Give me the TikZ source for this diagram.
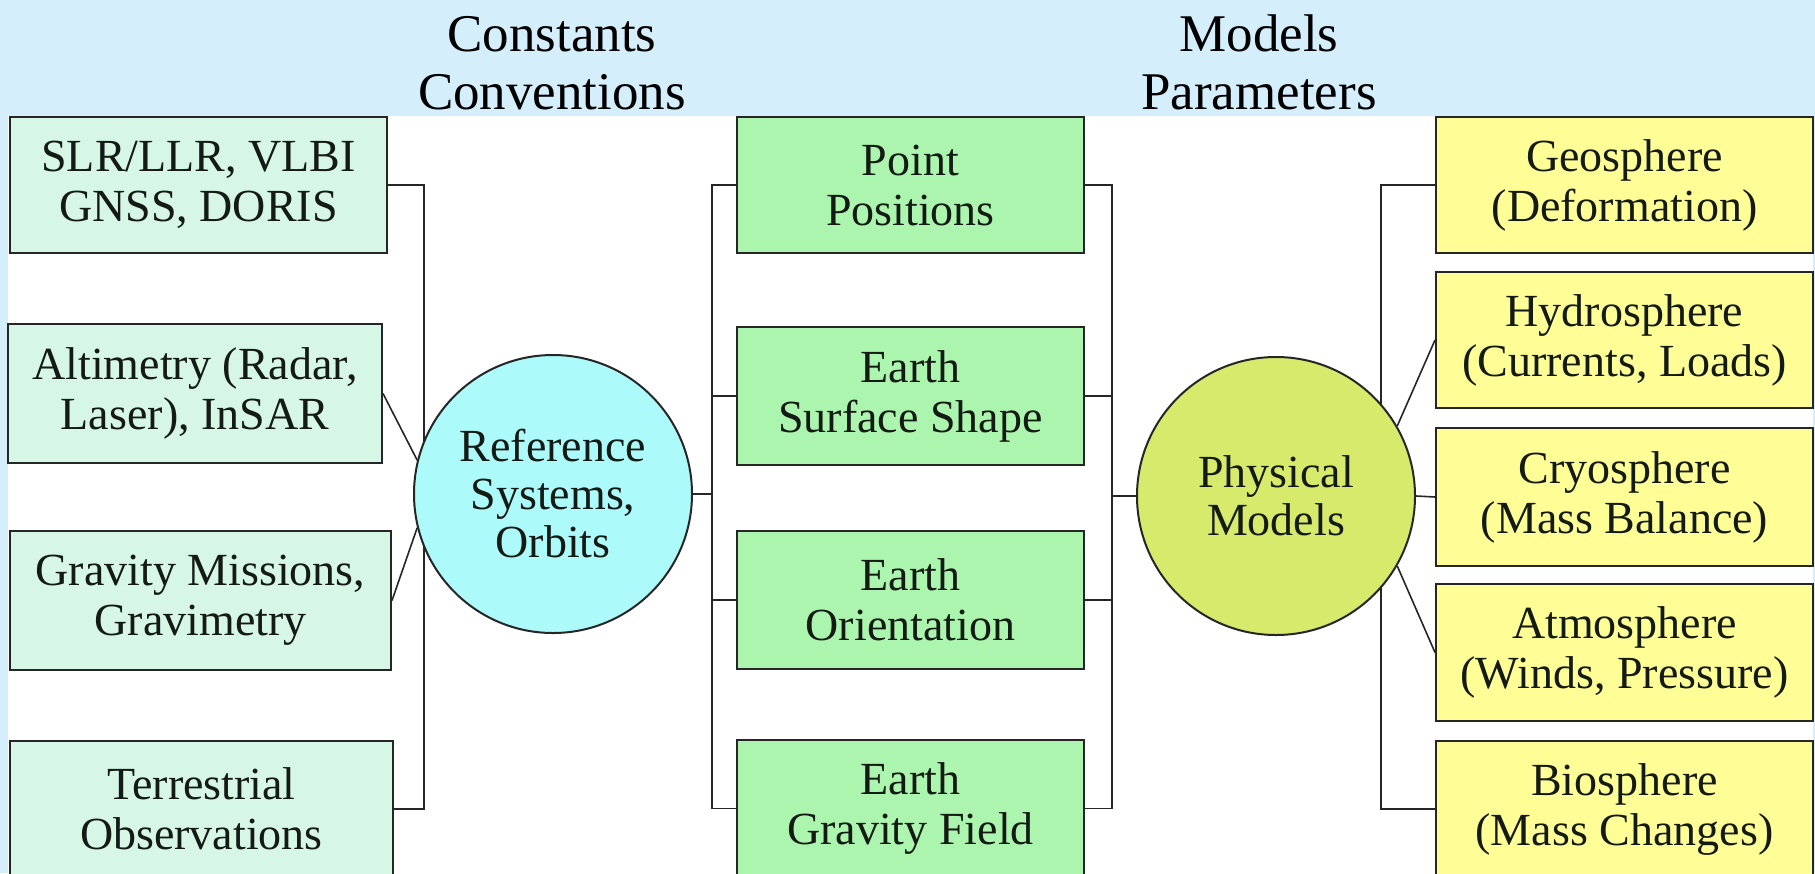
\documentclass[tikz,border=0pt]{standalone}
\usepackage{fontspec}
\setmainfont{Liberation Serif}
\newfontfamily\boxserif{Liberation Serif}
\definecolor{bgblue}{HTML}{D4EEFB}
\definecolor{mintc}{HTML}{D6F6E6}
\definecolor{greenc}{HTML}{ACF5AE}
\definecolor{yellowc}{HTML}{FFFE96}
\definecolor{cyanc}{HTML}{ADFAFA}
\definecolor{olivec}{HTML}{D8EA6C}
\definecolor{inkc}{HTML}{141A14}
\pgfdeclarelayer{bg}
\pgfdeclarelayer{lines}
\pgfsetlayers{bg,lines,main}
\begin{document}
\begin{tikzpicture}[x=0.5pt,y=-0.5pt,
  box/.style={draw=black!85, line width=1pt, align=center, inner sep=0pt,
    font=\boxserif\fontsize{23}{25}\selectfont, text=inkc},
  mintbox/.style={box, fill=mintc},
  greenbox/.style={box, fill=greenc},
  yellowbox/.style={box, fill=yellowc},
  hub/.style={circle, draw=black!85, line width=1pt, minimum size=139pt, inner sep=0pt,
    align=center, font=\boxserif\fontsize{23}{24}\selectfont, text=inkc},
  conn/.style={draw=black!85, line width=0.8pt},
  head/.style={anchor=base, inner sep=0pt, font=\boxserif\fontsize{26.5}{30}\selectfont, text=black}]
\useasboundingbox (0,0) rectangle (1815,873);
\clip (0,0) rectangle (1815,873);
\begin{pgfonlayer}{bg}
\fill[bgblue] (0,0) rectangle (1815,873);
\fill[white] (8,116) rectangle (1813,873);
\end{pgfonlayer}
% headers
\node[head] (hc1) at (552,51) {Constants};
\node[head] (hc2) at (552,109) {Conventions};
\node[head] (hm1) at (1259,51) {Models};
\node[head] (hm2) at (1259,109) {Parameters};
% left column
\node[mintbox, minimum width=188.5pt, minimum height=68pt] (slr) at (198.5,185) {SLR/LLR, VLBI\\GNSS, DORIS};
\node[mintbox, minimum width=187pt, minimum height=69.5pt] (alt) at (195,393.5) {Altimetry (Radar,\\Laser), InSAR};
\node[mintbox, minimum width=190.5pt, minimum height=69.5pt] (grav) at (200.5,600.5) {Gravity Missions,\\Gravimetry};
\node[mintbox, minimum width=191.5pt, minimum height=68pt] (terr) at (201.5,809) {Terrestrial\\Observations};
% middle column
\node[greenbox, minimum width=173.5pt, minimum height=68pt] (pp) at (910.5,185) {Point\\Positions};
\node[greenbox, minimum width=173.5pt, minimum height=69pt] (ess) at (910.5,396) {Earth\\Surface Shape};
\node[greenbox, minimum width=173.5pt, minimum height=69pt] (eo) at (910.5,600) {Earth\\Orientation};
\node[greenbox, minimum width=173.5pt, minimum height=68.5pt] (gf) at (910.5,808.5) {Earth\\Gravity Field};
% right column
\node[yellowbox, minimum width=188.5pt, minimum height=68pt] (geo) at (1624.5,185) {Geosphere\\(Deformation)};
\node[yellowbox, minimum width=188.5pt, minimum height=68pt] (hyd) at (1624.5,340) {Hydrosphere\\(Currents, Loads)};
\node[yellowbox, minimum width=188.5pt, minimum height=69pt] (cry) at (1624.5,497) {Cryosphere\\(Mass Balance)};
\node[yellowbox, minimum width=188.5pt, minimum height=68.5pt] (atm) at (1624.5,652.5) {Atmosphere\\(Winds, Pressure)};
\node[yellowbox, minimum width=188.5pt, minimum height=68pt] (bio) at (1624.5,809) {Biosphere\\(Mass Changes)};
% hubs
\node[hub, fill=cyanc] (ref) at (553,494) {Reference\\Systems,\\Orbits};
\node[hub, fill=olivec] (phys) at (1276,496) {Physical\\Models};
% bracket coordinates
\coordinate (lbx) at (424,500);
\coordinate (mlx) at (712,500);
\coordinate (mrx) at (1112,500);
\coordinate (rbx) at (1381,500);
\begin{pgfonlayer}{lines}
\draw[conn] (slr.east) -| (lbx) |- (terr.east);
\draw[conn] (alt.east) -- (ref.166);
\draw[conn] (grav.east) -- (ref.194);
\draw[conn] (ref.east) -- (ref.east -| mlx);
\draw[conn] (pp.west) -| (mlx) |- (gf.west);
\draw[conn] (ess.west) -- (ess.west -| mlx);
\draw[conn] (eo.west) -- (eo.west -| mlx);
\draw[conn] (pp.east) -| (mrx) |- (gf.east);
\draw[conn] (ess.east) -- (ess.east -| mrx);
\draw[conn] (eo.east) -- (eo.east -| mrx);
\draw[conn] (phys.west) -- (phys.west -| mrx);
\draw[conn] (geo.west) -| (rbx) |- (bio.west);
\draw[conn] (phys.east) -- (cry.west);
\draw[conn] (phys.30) -- (hyd.west);
\draw[conn] (phys.-30) -- (atm.west);
\end{pgfonlayer}
\end{tikzpicture}
\end{document}
